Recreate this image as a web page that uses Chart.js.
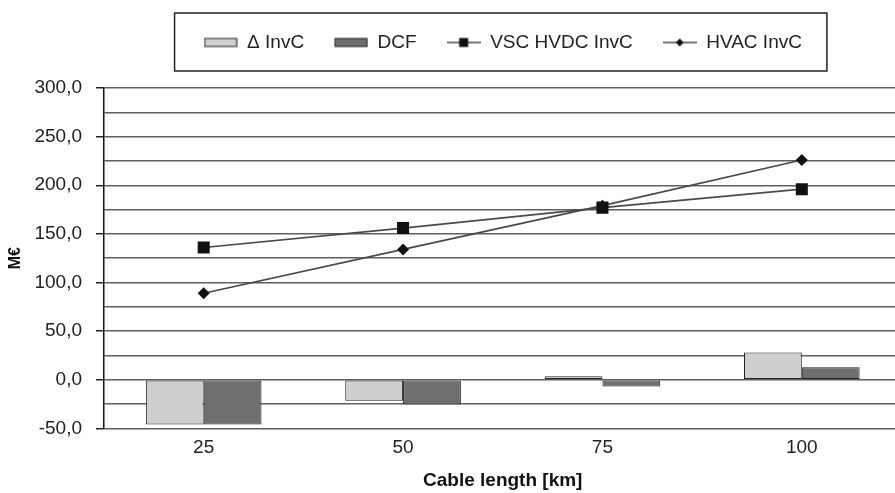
<!DOCTYPE html>
<html>
<head>
<meta charset="utf-8">
<script src="https://cdn.jsdelivr.net/npm/chart.js@4"></script>
<style>
  html, body { margin: 0; padding: 0; background: #fff; overflow: hidden; }
  #wrap { width: 910px; height: 493px; }
</style>
</head>
<body>
<div id="wrap"><canvas id="invChart"></canvas></div>
<script>
const lengths = ['25', '50', '75', '100'];
const deltaInvC = [-46, -21.5, 3.5, 28];
const dcf = [-46, -25.5, -7, 13];
const vscHvdcInvC = [136, 156, 177, 196];
const hvacInvC = [89, 134, 179, 226];
const yTicks = [-50, 0, 50, 100, 150, 200, 250, 300];

const FONT = 'Liberation Sans, Arial, sans-serif';
const LINE = '#4a4a4a';

// small legend swatches: framed boxes for bars, line + marker for lines
function swatch(kind, fill) {
  const c = document.createElement('canvas');
  c.width = 34; c.height = 12;
  const g = c.getContext('2d');
  if (kind === 'bar') {
    g.fillStyle = fill;
    g.fillRect(1, 2, 32, 8);
    g.strokeStyle = '#222';
    g.lineWidth = 1;
    g.strokeRect(1, 2, 32, 8);
  } else {
    g.strokeStyle = LINE;
    g.lineWidth = 1.5;
    g.beginPath(); g.moveTo(0, 6); g.lineTo(34, 6); g.stroke();
    g.fillStyle = '#111';
    if (kind === 'square') {
      g.fillRect(12.5, 1.5, 9, 9);
    } else {
      g.beginPath();
      g.moveTo(17, 2); g.lineTo(21, 6); g.lineTo(17, 10); g.lineTo(13, 6);
      g.closePath(); g.fill();
    }
  }
  return c;
}
const swatches = [
  swatch('bar', '#cfcfcf'),
  swatch('bar', '#6f6f6f'),
  swatch('square'),
  swatch('diamond')
];

// frame around the legend row, plus extra room below it
const legendFrame = {
  id: 'legendFrame',
  beforeInit(chart) {
    const fit = chart.legend.fit;
    chart.legend.fit = function () {
      fit.call(this);
      this.height += 26;
    };
  },
  afterDraw(chart) {
    const boxes = chart.legend.legendHitBoxes;
    if (!boxes || !boxes.length) return;
    const first = boxes[0], last = boxes[boxes.length - 1];
    const x0 = first.left - 29, x1 = last.left + last.width + 25;
    const y0 = first.top - 20, y1 = first.top + first.height + 19;
    const g = chart.ctx;
    g.save();
    g.strokeStyle = '#222';
    g.lineWidth = 1.5;
    g.strokeRect(x0, y0, x1 - x0, y1 - y0);
    g.restore();
  }
};

new Chart(document.getElementById('invChart'), {
  data: {
    labels: lengths,
    datasets: [
      {
        type: 'bar', label: 'Δ InvC', data: deltaInvC,
        backgroundColor: '#cfcfcf', borderColor: '#222', borderWidth: 1,
        borderSkipped: false
      },
      {
        type: 'bar', label: 'DCF', data: dcf,
        backgroundColor: '#6f6f6f', borderColor: '#222', borderWidth: 1,
        borderSkipped: false
      },
      {
        type: 'line', label: 'VSC HVDC InvC', data: vscHvdcInvC,
        borderColor: LINE, borderWidth: 1.7, fill: false, tension: 0,
        pointStyle: 'rect', pointRadius: 8.5, pointBackgroundColor: '#111',
        pointBorderColor: '#111', pointBorderWidth: 0
      },
      {
        type: 'line', label: 'HVAC InvC', data: hvacInvC,
        borderColor: LINE, borderWidth: 1.7, fill: false, tension: 0,
        pointStyle: 'rectRot', pointRadius: 6, pointBackgroundColor: '#111',
        pointBorderColor: '#111', pointBorderWidth: 0
      }
    ]
  },
  options: {
    responsive: true,
    maintainAspectRatio: false,
    animation: false,
    layout: { padding: { top: 3, right: 2, left: 2, bottom: 1 } },
    datasets: { bar: { categoryPercentage: 0.58, barPercentage: 1 } },
    plugins: {
      tooltip: { enabled: false },
      legend: {
        position: 'top',
        fullSize: false,
        labels: {
          color: '#222',
          font: { family: FONT, size: 19 },
          usePointStyle: true,
          pointStyleWidth: 34,
          boxHeight: 12,
          padding: 30,
          generateLabels(chart) {
            const items = Chart.defaults.plugins.legend.labels.generateLabels(chart);
            items.forEach((it, i) => { it.pointStyle = swatches[i]; });
            return items;
          }
        }
      }
    },
    scales: {
      x: {
        offset: true,
        grid: { display: false, drawTicks: false },
        border: { display: false },
        ticks: { color: '#222', font: { family: FONT, size: 19 }, padding: 8 },
        title: {
          display: true, text: 'Cable length [km]', color: '#111',
          font: { family: FONT, size: 19, weight: 'bold' }, padding: { top: 2, bottom: 0 }
        }
      },
      y: {
        min: -50, max: 300,
        afterBuildTicks(scale) {
          const t = [];
          for (let v = -50; v <= 300; v += 25) t.push({ value: v });
          scale.ticks = t;
        },
        afterFit(scale) {
          scale.width = 102;
        },
        grid: {
          color: '#5f5f5f', lineWidth: 1.5, tickLength: 8,
          tickColor: ctx => (yTicks.includes(ctx.tick.value) ? '#222' : 'rgba(0,0,0,0)')
        },
        border: { display: true, color: '#111', width: 1.5 },
        ticks: {
          autoSkip: false,
          color: '#222', font: { family: FONT, size: 19 }, padding: 14,
          callback: v => (yTicks.includes(v) ? v.toFixed(1).replace('.', ',') : '')
        },
        title: {
          display: true, text: 'M€', color: '#111',
          font: { family: FONT, size: 16, weight: 'bold' }, padding: { top: 4, bottom: 0 }
        }
      }
    }
  },
  plugins: [legendFrame]
});
</script>
</body>
</html>
